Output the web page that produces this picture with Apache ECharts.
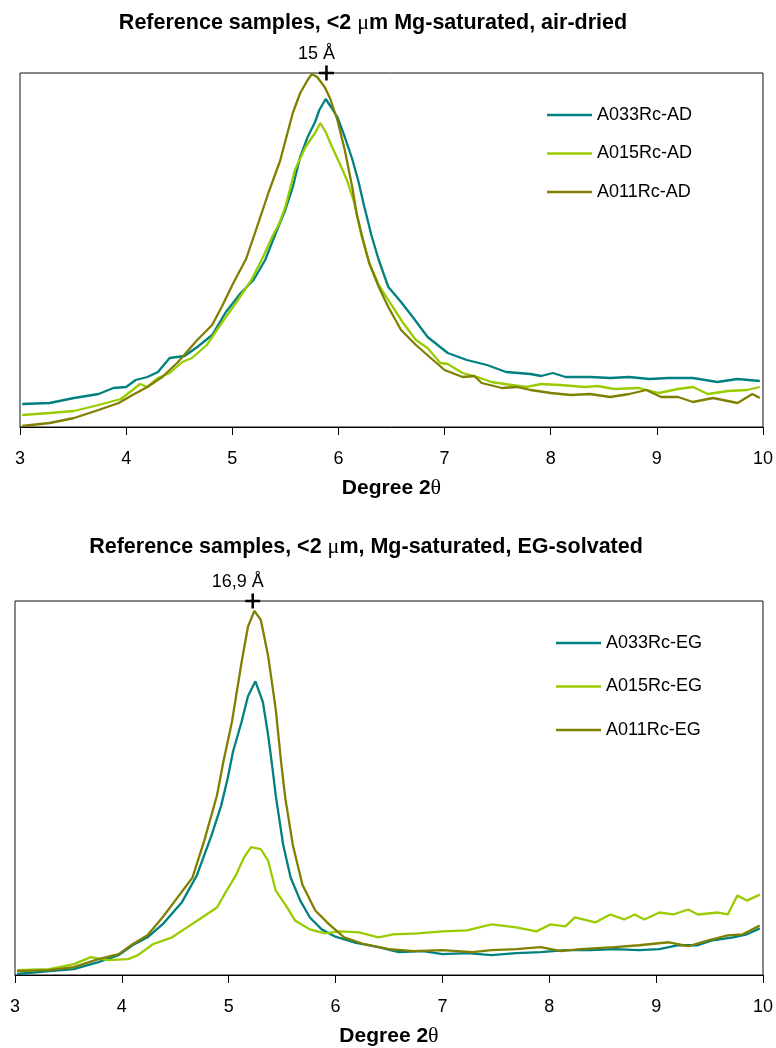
<!DOCTYPE html>
<html>
<head>
<meta charset="utf-8">
<script src="https://cdn.jsdelivr.net/npm/echarts@6/dist/echarts.min.js"></script>
<style>
  html, body { margin: 0; padding: 0; background: #ffffff; }
  #chart { width: 776px; height: 1048px; }
</style>
</head>
<body>
<div id="chart"></div>
<script>
// X-ray diffractograms of the <2 µm reference samples, Mg-saturated.
// Each trace is a list of [2θ (degrees), intensity (arbitrary units)].

const xTicks = [3, 4, 5, 6, 7, 8, 9, 10];

const namesAD = ['A033Rc-AD', 'A015Rc-AD', 'A011Rc-AD'];
const namesEG = ['A033Rc-EG', 'A015Rc-EG', 'A011Rc-EG'];
const traceColors = ['#008080', '#99CC00', '#808000'];

// Air-dried traces
const a033AD = [
  [3.02,23],[3.28,24],[3.51,29],[3.74,33],[3.88,39],[4.0,40],[4.09,47],[4.2,50],[4.3,55],
  [4.41,69],[4.55,71],[4.67,80],[4.81,92],[4.94,115],[5.08,134],[5.2,147],[5.31,167],
  [5.41,194],[5.5,217],[5.57,240],[5.64,270],[5.71,290],[5.78,305],[5.82,317],[5.88,328],
  [5.93,320],[5.99,310],[6.06,290],[6.13,268],[6.19,245],[6.24,222],[6.28,205],[6.31,192],
  [6.38,167],[6.47,140],[6.59,125],[6.7,110],[6.84,90],[7.03,74],[7.21,67],[7.4,62],
  [7.58,55],[7.81,53],[7.91,51],[8.02,54],[8.14,50],[8.37,50],[8.56,49],[8.74,50],
  [8.93,48],[9.11,49],[9.34,49],[9.57,45],[9.76,48],[9.97,46]
];
const a015AD = [
  [3.02,12],[3.28,14],[3.51,16],[3.74,22],[3.95,28],[4.06,37],[4.13,43],[4.2,40],[4.3,49],
  [4.41,54],[4.53,65],[4.62,69],[4.76,82],[4.9,104],[5.04,125],[5.18,147],[5.29,170],
  [5.38,191],[5.44,203],[5.5,220],[5.59,257],[5.69,280],[5.78,294],[5.83,304],[5.88,295],
  [5.94,280],[6.01,264],[6.08,247],[6.15,224],[6.22,190],[6.29,164],[6.38,142],[6.5,122],
  [6.61,104],[6.73,87],[6.84,79],[6.96,64],[7.03,63],[7.17,54],[7.31,50],[7.44,45],
  [7.63,42],[7.77,40],[7.91,43],[8.09,42],[8.32,40],[8.44,41],[8.6,38],[8.83,39],
  [9.02,34],[9.2,38],[9.34,40],[9.48,33],[9.67,36],[9.85,37],[9.97,40]
];
const a011AD = [
  [3.02,1],[3.28,4],[3.51,9],[3.74,17],[3.93,24],[4.06,32],[4.2,40],[4.34,50],[4.48,64],
  [4.67,87],[4.81,102],[4.9,120],[5.01,144],[5.13,168],[5.22,196],[5.34,234],[5.45,266],
  [5.57,314],[5.64,334],[5.71,347],[5.75,353],[5.8,350],[5.87,340],[5.92,329],[5.99,307],
  [6.06,277],[6.13,240],[6.17,214],[6.22,192],[6.29,164],[6.38,140],[6.47,120],[6.59,97],
  [6.73,82],[6.87,69],[7.0,57],[7.17,50],[7.28,51],[7.35,44],[7.54,39],[7.68,40],
  [7.81,37],[8.0,34],[8.19,32],[8.37,33],[8.56,30],[8.74,33],[8.9,37],[9.04,30],
  [9.2,30],[9.34,25],[9.53,29],[9.76,24],[9.9,33],[9.97,29]
];

// Ethylene-glycol solvated traces
const a033EG = [
  [3.02,1],[3.32,4],[3.55,6],[3.78,13],[3.97,20],[4.1,30],[4.24,38],[4.38,51],[4.56,73],
  [4.7,100],[4.84,141],[4.93,171],[4.99,198],[5.04,225],[5.12,255],[5.18,281],[5.25,296],
  [5.32,275],[5.37,241],[5.41,208],[5.44,181],[5.51,131],[5.58,98],[5.67,75],[5.76,58],
  [5.87,46],[5.99,39],[6.17,33],[6.4,28],[6.59,23],[6.82,24],[7.0,21],[7.23,22],
  [7.46,20],[7.69,22],[7.92,23],[8.15,25],[8.38,25],[8.61,26],[8.84,25],[9.03,26],
  [9.21,30],[9.39,30],[9.53,35],[9.72,38],[9.85,41],[9.97,47]
];
const a015EG = [
  [3.02,5],[3.32,6],[3.55,11],[3.71,18],[3.87,15],[4.06,16],[4.15,20],[4.29,31],[4.47,38],
  [4.61,48],[4.75,58],[4.89,68],[4.98,85],[5.07,101],[5.14,118],[5.21,129],[5.3,127],
  [5.37,115],[5.44,85],[5.53,71],[5.62,55],[5.76,46],[5.9,42],[6.04,44],[6.22,43],
  [6.4,38],[6.54,41],[6.77,42],[7.0,44],[7.23,45],[7.46,51],[7.69,48],[7.88,44],
  [8.01,51],[8.15,49],[8.24,58],[8.43,53],[8.57,61],[8.7,56],[8.8,61],[8.89,56],
  [9.03,63],[9.16,61],[9.3,66],[9.39,61],[9.58,63],[9.67,61],[9.76,80],[9.85,75],[9.97,81]
];
const a011EG = [
  [3.02,4],[3.32,5],[3.55,8],[3.78,16],[3.97,21],[4.1,31],[4.24,40],[4.38,58],[4.52,78],
  [4.66,98],[4.77,135],[4.89,181],[4.95,215],[5.03,255],[5.12,315],[5.18,351],[5.24,367],
  [5.3,358],[5.37,321],[5.44,268],[5.49,215],[5.53,178],[5.6,131],[5.69,91],[5.81,65],
  [5.94,51],[6.08,38],[6.27,31],[6.5,26],[6.73,24],[7.0,25],[7.28,23],[7.46,25],
  [7.69,26],[7.92,28],[8.11,24],[8.29,26],[8.61,28],[8.84,30],[9.12,33],[9.3,29],
  [9.49,35],[9.67,40],[9.81,41],[9.97,50]
];

// Basal reflections marked on each panel (d-spacing in Å, Cu Kα)
const peakSpacings = [15, 16.9];
const peakLabels = ['15 Å', '16,9 Å'];
const wavelength = 1.5406;

// Full intensity range shown on each panel
const intensityMax = [354, 377];

function twoTheta(d) {
  return 2 * Math.asin(wavelength / (2 * d)) * 180 / Math.PI;
}

const FONT = 'Liberation Sans, Arial, sans-serif';
const SERIF = 'Liberation Serif, Times New Roman, serif';
const PLUS = 'path://M5.8 0H8.2V5.8H14V8.2H8.2V14H5.8V8.2H0V5.8H5.8Z';

const chart = echarts.init(document.getElementById('chart'), null, { renderer: 'canvas' });

function xAxisFor(gridIndex) {
  return {
    type: 'value', gridIndex: gridIndex,
    min: xTicks[0], max: xTicks[xTicks.length - 1], interval: 1,
    name: 'Degree 2{t|θ}', nameLocation: 'middle', nameGap: 50,
    nameTextStyle: {
      fontFamily: FONT, fontSize: 21, fontWeight: 'bold', color: '#000',
      rich: { t: { fontFamily: SERIF, fontSize: 22, fontWeight: 'normal', color: '#000' } }
    },
    axisLine: { show: true, lineStyle: { color: '#000', width: 1 } },
    axisTick: { show: true, inside: false, length: 8, lineStyle: { color: '#000', width: 1 } },
    axisLabel: { show: true, margin: 23, fontFamily: FONT, fontSize: 18, color: '#000' },
    splitLine: { show: false }
  };
}

function yAxisFor(gridIndex, max) {
  return {
    type: 'value', gridIndex: gridIndex, min: 0, max: max,
    show: false, splitLine: { show: false }
  };
}

function traceSeries(name, data, color, gridIndex) {
  return {
    type: 'line', name: name, data: data,
    xAxisIndex: gridIndex, yAxisIndex: gridIndex,
    showSymbol: false, symbol: 'none', smooth: false,
    lineStyle: { color: color, width: 2.3 },
    itemStyle: { color: color },
    emphasis: { disabled: true }
  };
}

function peakMarker(i, offsetX) {
  return {
    type: 'scatter', name: peakLabels[i],
    xAxisIndex: i, yAxisIndex: i, clip: false, z: 10,
    data: [[twoTheta(peakSpacings[i]), intensityMax[i]]],
    symbol: PLUS, symbolSize: 15,
    itemStyle: { color: '#000', opacity: 1 },
    label: {
      show: true, formatter: peakLabels[i], position: 'top', distance: 2,
      offset: [offsetX, 0], fontFamily: FONT, fontSize: 18, color: '#000',
      textBorderWidth: 0
    },
    emphasis: { disabled: true }
  };
}

function legendFor(names, left, top, gap) {
  return {
    data: names, orient: 'vertical', left: left, top: top,
    icon: 'rect', itemWidth: 45, itemHeight: 2.5, itemGap: gap,
    textStyle: { fontFamily: FONT, fontSize: 18, color: '#000' },
    selectedMode: false
  };
}

const titleRich = { s: { fontFamily: SERIF, fontSize: 22, fontWeight: 'normal', color: '#000' } };

const option = {
  animation: false,
  backgroundColor: '#ffffff',
  title: [
    {
      text: 'Reference samples, <2 {s|μ}m Mg-saturated, air-dried',
      left: 373, top: 12, textAlign: 'center', padding: 0,
      textStyle: { fontFamily: FONT, fontSize: 21.5, fontWeight: 'bold', color: '#000', rich: titleRich }
    },
    {
      text: 'Reference samples, <2 {s|μ}m, Mg-saturated, EG-solvated',
      left: 366, top: 536, textAlign: 'center', padding: 0,
      textStyle: { fontFamily: FONT, fontSize: 21.5, fontWeight: 'bold', color: '#000', rich: titleRich }
    }
  ],
  legend: [
    legendFor(namesAD, 542, 101, 20.5),
    legendFor(namesEG, 551, 629, 25.5)
  ],
  grid: [
    { left: 20, top: 73, width: 748, height: 354, show: true, borderColor: '#111', borderWidth: 1, backgroundColor: '#fff' },
    { left: 15, top: 601, width: 753, height: 377, show: true, borderColor: '#111', borderWidth: 1, backgroundColor: '#fff' }
  ],
  xAxis: [xAxisFor(0), xAxisFor(1)],
  yAxis: [yAxisFor(0, intensityMax[0]), yAxisFor(1, intensityMax[1])],
  series: [
    traceSeries(namesAD[0], a033AD, traceColors[0], 0),
    traceSeries(namesAD[1], a015AD, traceColors[1], 0),
    traceSeries(namesAD[2], a011AD, traceColors[2], 0),
    traceSeries(namesEG[0], a033EG, traceColors[0], 1),
    traceSeries(namesEG[1], a015EG, traceColors[1], 1),
    traceSeries(namesEG[2], a011EG, traceColors[2], 1),
    peakMarker(0, -10),
    peakMarker(1, -15)
  ]
};

chart.setOption(option);
</script>
</body>
</html>
